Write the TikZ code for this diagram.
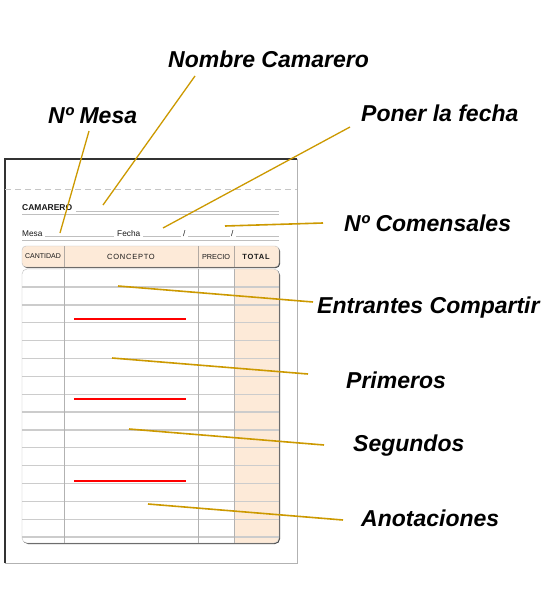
\documentclass[tikz,border=0pt]{standalone}
\usepackage{fontspec}
\setmainfont{Liberation Sans}
\newfontfamily\spacedfont[LetterSpace=10]{Liberation Sans}
\usepackage{xcolor}
\usepackage{tikz}
\usetikzlibrary{calc}
\definecolor{gold}{RGB}{204,153,0}
\definecolor{peach}{RGB}{253,234,216}

\begin{document}
\begin{tikzpicture}[x=1pt, y=-1pt,
    label/.style={anchor=base west, inner sep=0pt, font=\fontsize{23}{27}\selectfont\bfseries\itshape},
    leader/.style={gold, line width=1.6pt},
    formtext/.style={anchor=base west, inner sep=0pt, text=black!90, font=\fontsize{8.3}{10}\selectfont},
    headtext/.style={inner sep=0pt, text=black!90, font=\fontsize{7}{8}\selectfont},
    rule/.style={gray!50, line width=0.8pt}]

    \useasboundingbox (0,0) rectangle (550,594);
    \fill[white] (0,0) rectangle (550,594);

    % Paper
    \draw[gray!60, line width=1pt] (297,159) -- (297,563) -- (5,563);
    \draw[black!80, line width=1.2pt] (5,563) -- (5,159) -- (297,159);
    \draw[gray!45, dash pattern=on 6pt off 4pt, line width=0.8pt] (5,189) -- (297,189);

    % Waiter and date fields
    \node[formtext, font=\fontsize{8.5}{10}\selectfont\bfseries] (camarero) at (22,210) {CAMARERO};
    \draw[rule] (76,211) -- (279,211);
    \draw[rule] (22,214) -- (279,214);
    \node[formtext] (mesa) at (22,236) {Mesa};
    \node[formtext] (fecha) at (117,236) {Fecha};
    \node[formtext] (slash1) at (183,236) {/};
    \node[formtext] (slash2) at (231,236) {/};
    \draw[rule] (45,236) -- (114,236);
    \draw[rule] (143,236) -- (181,236);
    \draw[rule] (188,236) -- (230,236);
    \draw[rule] (236,236) -- (279,236);
    \draw[rule] (22,240) -- (279,240);

    % Column heads
    \fill[black!70, rounded corners=4pt] (23,247) rectangle (280,268);
    \draw[gray!50, fill=peach, rounded corners=4pt] (22,246) rectangle (279,267);
    \draw[gray!60!peach, line width=0.9pt] (64,246) -- (64,267);
    \draw[gray!60!peach, line width=0.9pt] (198,246) -- (198,267);
    \draw[gray!60!peach, line width=0.9pt] (234,246) -- (234,267);
    \node[headtext] (cantidad) at (43,256.5) {CANTIDAD};
    \node[headtext, font=\fontsize{7.5}{8}\spacedfont] (concepto) at (131,256.5) {CONCEPTO};
    \node[headtext, font=\fontsize{7.3}{8}\selectfont] (precio) at (216,256.5) {PRECIO};
    \node[headtext, font=\fontsize{7.5}{8}\spacedfont\bfseries] (total) at (256,256.5) {TOTAL};

    % Table body
    \fill[black!70, rounded corners=5pt] (23,270) rectangle (280,544);
    \fill[white, rounded corners=5pt] (22,269) rectangle (279,543);
    \begin{scope}
        \clip[rounded corners=5pt] (22,269) rectangle (279,543);
        \fill[peach] (234,269) rectangle (279,543);
        \foreach \k in {0,...,14}
            \draw[gray!40, line width=1.3pt] (22,287+17.86*\k) -- (279,287+17.86*\k);
    \end{scope}
    \foreach \cx in {64,198,234}
        \draw[gray!60, line width=0.9pt] (\cx,269) -- (\cx,543);
    \draw[gray!50, rounded corners=5pt] (22,269) rectangle (279,543);

    % Red separators
    \draw[red, line width=1.8pt] (74,319) -- (186,319);
    \draw[red, line width=1.8pt] (74,399) -- (186,399);
    \draw[red, line width=1.8pt] (74,481) -- (186,481);

    % Points on the form
    \coordinate (p-camarero) at (103,205);
    \coordinate (p-mesa) at (60,233);
    \coordinate (p-fecha) at (163,228);
    \coordinate (p-comensales) at (225,226);
    \coordinate (p-entrantes) at (118,286);
    \coordinate (p-primeros) at (112,358);
    \coordinate (p-segundos) at (129,429);
    \coordinate (p-anotaciones) at (148,504);

    % Labels
    \node[label] (nombre) at (168,67) {Nombre Camarero};
    \node[label] (nmesa) at (48,123) {Nº Mesa};
    \node[label] (poner) at (361,121) {Poner la fecha};
    \node[label] (comensales) at (344,231) {Nº Comensales};
    \node[label] (entrantes) at (317,313) {Entrantes Compartir};
    \node[label] (primeros) at (346,388) {Primeros};
    \node[label] (segundos) at (353,451) {Segundos};
    \node[label] (anotaciones) at (361,526) {Anotaciones};

    % Leaders
    \draw[leader, line width=1.3pt] (p-camarero) -- ([shift={(27,9)}]nombre.base west);
    \draw[leader, line width=1.3pt] (p-mesa) -- ([shift={(41,8)}]nmesa.base west);
    \draw[leader, line width=1.3pt] (p-fecha) -- ([shift={(-11,6)}]poner.base west);
    \draw[leader] (p-comensales) -- ([shift={(-21,-8)}]comensales.base west);
    \draw[leader] (p-entrantes) -- ([shift={(-4,-11)}]entrantes.base west);
    \draw[leader] (p-primeros) -- ([shift={(-38,-14)}]primeros.base west);
    \draw[leader] (p-segundos) -- ([shift={(-29,-6)}]segundos.base west);
    \draw[leader] (p-anotaciones) -- ([shift={(-18,-6)}]anotaciones.base west);
\end{tikzpicture}
\end{document}
